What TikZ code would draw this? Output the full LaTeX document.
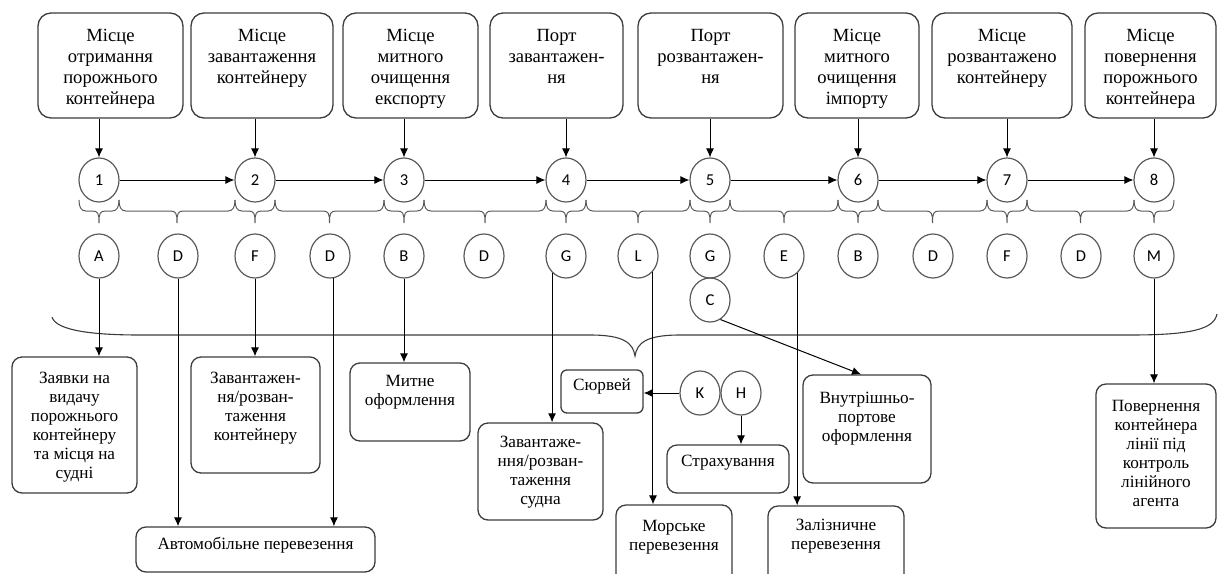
\documentclass[tikz,border=0pt]{standalone}
\usepackage{fontspec}
\setmainfont{Liberation Serif}
\newfontfamily\txtfont{Liberation Serif}
\newfontfamily\circfont{Carlito}
\usetikzlibrary{arrows.meta,fit,calc,shapes.geometric}
\definecolor{boxgray}{HTML}{3C3C3C}
\definecolor{circgray}{HTML}{5A5A5A}
\newcommand\mybrace[2]{%
  \draw[brc] (#1,200) .. controls (#1,207) and ({#1+2},211) .. ({#1+7},211)
    -- ({(#1+#2)/2-7},211) .. controls ({(#1+#2)/2-1},211) and ({(#1+#2)/2},213) .. ({(#1+#2)/2},223)
    .. controls ({(#1+#2)/2},213) and ({(#1+#2)/2+1},211) .. ({(#1+#2)/2+7},211)
    -- ({#2-7},211) .. controls ({#2-2},211) and (#2,207) .. (#2,200);}
\begin{document}
\begin{tikzpicture}[x=0.5pt,y=-0.5pt,
  box/.style={draw=boxgray, line width=0.65pt, rounded corners=6.5pt, inner sep=0pt},
  bbox/.style={box, rounded corners=5pt},
  ttxt/.style={anchor=north, inner sep=0pt, align=center, font=\txtfont\fontsize{9.3pt}{10.5pt}\selectfont},
  btxt/.style={anchor=north, inner sep=0pt, align=center, font=\txtfont\fontsize{8.6pt}{9.5pt}\selectfont},
  circ/.style={draw=circgray, line width=0.6pt, ellipse, minimum width=20pt, minimum height=22pt, inner sep=0pt, font=\circfont\fontsize{8.3pt}{9pt}\selectfont},
  arr/.style={draw=black, line width=0.5pt, -{Latex[length=4.5pt,width=4pt]}},
  brc/.style={draw=circgray, line width=0.5pt},
  bigbrc/.style={draw=boxgray, line width=0.55pt},
]
\clip (0,0) rectangle (1218,573);
% top boxes
\node[box, fit={(38,13) (183,118)}] (T1) {};
\node[box, fit={(191,13) (333,118)}] (T2) {};
\node[box, fit={(343,13) (478,118)}] (T3) {};
\node[box, fit={(490,13) (623,118)}] (T4) {};
\node[box, fit={(638,13) (783,118)}] (T5) {};
\node[box, fit={(795,13) (919,118)}] (T6) {};
\node[box, fit={(932,13) (1072,118)}] (T7) {};
\node[box, fit={(1085,13) (1216,118)}] (T8) {};
\node[ttxt] at ([yshift=-8.2pt]T1.north) {Місце\\отримання\\порожнього\\контейнера};
\node[ttxt] at ([yshift=-8.2pt]T2.north) {Місце\\завантаження\\контейнеру};
\node[ttxt] at ([yshift=-8.2pt]T3.north) {Місце\\митного\\очищення\\експорту};
\node[ttxt] at ([yshift=-8.2pt]T4.north) {Порт\\завантажен-\\ня};
\node[ttxt] at ([yshift=-8.2pt]T5.north) {Порт\\розвантажен-\\ня};
\node[ttxt] at ([yshift=-8.2pt]T6.north) {Місце\\митного\\очищення\\імпорту};
\node[ttxt] at ([yshift=-8.2pt]T7.north) {Місце\\розвантажено\\контейнеру};
\node[ttxt] at ([yshift=-8.2pt]T8.north) {Місце\\повернення\\порожнього\\контейнера};
% numbered circles
\node[circ] (N1) at (99,180) {1};
\node[circ] (N2) at (255,180) {2};
\node[circ] (N3) at (404,180) {3};
\node[circ] (N4) at (566,180) {4};
\node[circ] (N5) at (710,180) {5};
\node[circ] (N6) at (858,180) {6};
\node[circ] (N7) at (1007,180) {7};
\node[circ] (N8) at (1154,180) {8};
\foreach \i in {1,...,8} {\draw[arr] (N\i.north |- T\i.south) -- (N\i.north);}
\draw[arr] (N1) -- (N2);
\draw[arr] (N2) -- (N3);
\draw[arr] (N3) -- (N4);
\draw[arr] (N4) -- (N5);
\draw[arr] (N5) -- (N6);
\draw[arr] (N6) -- (N7);
\draw[arr] (N7) -- (N8);
% braces
\mybrace{79}{119}\mybrace{119}{235}\mybrace{235}{275}\mybrace{275}{384}
\mybrace{384}{424}\mybrace{424}{546}\mybrace{546}{586}\mybrace{586}{690}
\mybrace{690}{730}\mybrace{730}{838}\mybrace{838}{878}\mybrace{878}{987}
\mybrace{987}{1027}\mybrace{1027}{1134}\mybrace{1134}{1174}
% letter circles
\node[circ] (A) at (99,256) {A};
\node[circ] (D1) at (178,256) {D};
\node[circ] (F1) at (255,256) {F};
\node[circ] (D2) at (330,256) {D};
\node[circ] (B1) at (404,256) {B};
\node[circ] (D3) at (484,256) {D};
\node[circ] (G1) at (566,256) {G};
\node[circ] (L) at (638,256) {L};
\node[circ] (G2) at (710,256) {G};
\node[circ] (E) at (784,256) {E};
\node[circ] (B2) at (858,256) {B};
\node[circ] (D4) at (933,256) {D};
\node[circ] (F2) at (1007,256) {F};
\node[circ] (D5) at (1081,256) {D};
\node[circ] (M) at (1154,256) {M};
\node[circ] (C) at (710,300) {C};
\node[circ] (K) at (700,393) {K};
\node[circ] (H) at (741,393) {H};
% big brace
\draw[bigbrc] (52,317) .. controls (56,331) and (95,335) .. (140,335) -- (590,335)
  .. controls (624,335) and (633,343) .. (635,356)
  .. controls (637,343) and (646,335) .. (680,335) -- (1130,335)
  .. controls (1192,335) and (1214,329) .. (1217,314);
% bottom boxes
\node[bbox, fit={(12,357) (137,493)}] (Q1) {};
\node[bbox, fit={(191,357) (320,473)}] (Q2) {};
\node[bbox, fit={(350,363) (470,441)}] (Q3) {};
\node[box, rounded corners=3pt, fit={(561,370) (643,413)}] (Q4) {};
\node[bbox, fit={(478,423) (603,520)}] (Q5) {};
\node[bbox, fit={(667,445) (789,493)}] (Q6) {};
\node[bbox, fit={(803,375) (931,483)}] (Q7) {};
\node[bbox, fit={(1096,384) (1216,528)}] (Q8) {};
\node[bbox, fit={(616,505) (732,600)}] (Q9) {};
\node[bbox, fit={(768,506) (904,600)}] (Q10) {};
\node[bbox, fit={(136,527) (375,572)}] (Q11) {};
\node[btxt] at ([yshift=-7.5pt]Q1.north) {Заявки на\\видачу\\порожнього\\контейнеру\\та місця на\\судні};
\node[btxt] at ([yshift=-7.5pt]Q2.north) {Завантажен-\\ня/розван-\\таження\\контейнеру};
\node[btxt] at ([yshift=-6pt]Q3.north) {Митне\\оформлення};
\node[btxt] at ([yshift=-4.25pt]Q4.north) {Сюрвей};
\node[btxt] at ([yshift=-6.75pt]Q5.north) {Завантаже-\\ння/розван-\\таження\\судна};
\node[btxt] at ([yshift=-5.25pt]Q6.north) {Страхування};
\node[btxt] at ([yshift=-8.75pt]Q7.north) {Внутрішньо-\\портове\\оформлення};
\node[btxt] at ([yshift=-8.25pt]Q8.north) {Повернення\\контейнера\\лінії під\\контроль\\лінійного\\агента};
\node[btxt] at ([yshift=-7.75pt]Q9.north) {Морське\\перевезення};
\node[btxt] at ([yshift=-6.75pt]Q10.north) {Залізничне\\перевезення};
\node[btxt] at ([yshift=-5.25pt]Q11.north) {Автомобільне перевезення};
% connectors from letter circles
\draw[arr] (A.south) -- (A.south |- Q1.north);
\draw[arr] (D1.south) -- (D1.south |- Q11.north);
\draw[arr] (F1.south) -- (F1.south |- Q2.north);
\draw[arr] (D2.-80) -- (D2.-80 |- Q11.north);
\draw[arr] (B1.south) -- (B1.south |- Q3.north);
\draw[arr] (G1.-130) -- (G1.-130 |- Q5.north);
\draw[arr] (L.-46) -- (L.-46 |- Q9.north);
\draw[arr] (C.-62) -- ($(Q7.north)+(-6,0)$);
\draw[arr] (E.-53) -- (E.-53 |- Q10.north);
\draw[arr] (M.south) -- (M.south |- Q8.north);
\draw[arr] (K.west) -- (K.west -| Q4.east);
\draw[arr] (H.south) -- (H.south |- Q6.north);
\end{tikzpicture}
\end{document}
